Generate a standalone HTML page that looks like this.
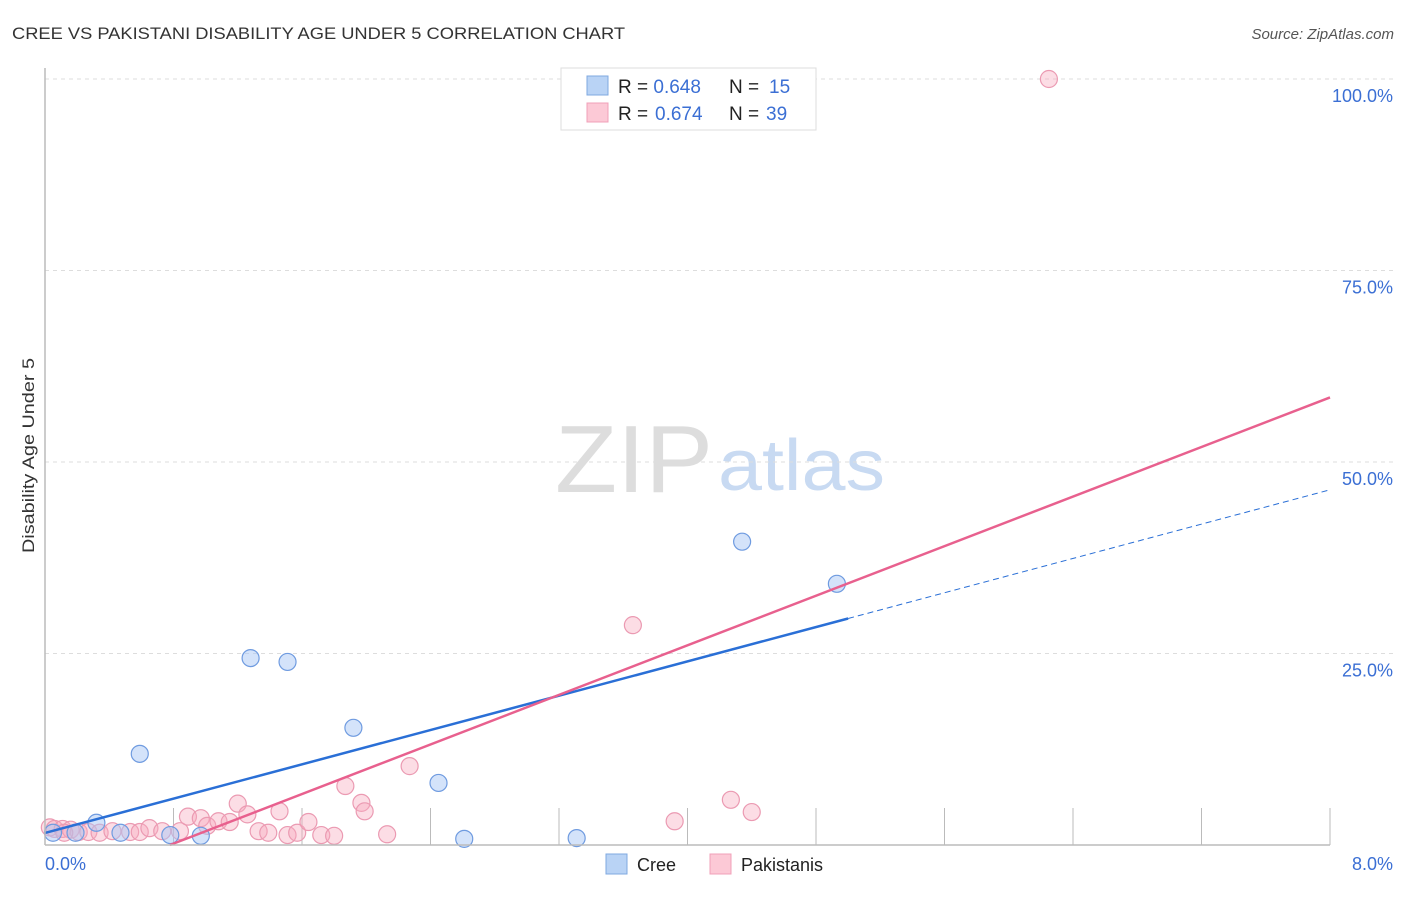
<!DOCTYPE html>
<html><head><meta charset="utf-8"><style>
body{margin:0;background:#fff;font-family:"Liberation Sans",sans-serif}
svg text{font-family:"Liberation Sans",sans-serif}
</style></head><body>
<svg id="c" width="1406" height="892">
<text x="12" y="39" font-size="17" fill="#333" textLength="613" lengthAdjust="spacingAndGlyphs">CREE VS PAKISTANI DISABILITY AGE UNDER 5 CORRELATION CHART</text>
<text x="1394" y="39" font-size="15" fill="#555" font-style="italic" text-anchor="end">Source: ZipAtlas.com</text>
<text transform="translate(34,553) rotate(-90)" font-size="17" fill="#333" textLength="195" lengthAdjust="spacingAndGlyphs">Disability Age Under 5</text>
<text x="555" y="492" font-size="96" fill="#ddd" font-family="Liberation Serif" textLength="158" lengthAdjust="spacingAndGlyphs">ZIP</text>
<text x="718" y="490" font-size="72" fill="#c8daf2" textLength="167" lengthAdjust="spacingAndGlyphs">atlas</text>
<g id="grid"></g><g id="pts"></g><g id="lines"></g>
<line x1="45" y1="68" x2="45" y2="845" stroke="#bbb" stroke-width="1.5"/>
<line x1="45" y1="845" x2="1330" y2="845" stroke="#bbb" stroke-width="1.5"/>
<text x="45" y="870" font-size="18" fill="#3b6fd4">0.0%</text>
<text x="1393" y="870" font-size="18" fill="#3b6fd4" text-anchor="end">8.0%</text>
<g>
<rect x="561" y="68" width="255" height="62" fill="#fff" stroke="#ddd"/>
<rect x="587" y="76" width="21" height="19" fill="#b9d3f5" stroke="#7fa8e0"/>
<rect x="587" y="103" width="21" height="19" fill="#fcc9d6" stroke="#f0a0b8"/>
<text x="618" y="93" font-size="19" fill="#222">R = <tspan fill="#3b6fd4">0.648</tspan><tspan x="729">N = </tspan><tspan fill="#3b6fd4" x="769">15</tspan></text>
<text x="618" y="120" font-size="19" fill="#222">R = <tspan fill="#3b6fd4" x="655">0.674</tspan><tspan x="729">N = </tspan><tspan fill="#3b6fd4" x="766">39</tspan></text>
</g>
<g>
<rect x="606" y="854" width="21" height="20" fill="#b9d3f5" stroke="#7fa8e0"/>
<text x="637" y="871" font-size="18" fill="#222">Cree</text>
<rect x="710" y="854" width="21" height="20" fill="#fcc9d6" stroke="#f0a0b8"/>
<text x="741" y="871" font-size="18" fill="#222">Pakistanis</text>
</g>
</svg>
<script>
const yTicks=[25,50,75,100];
const xTickCount=10;
const creeX=[0.05,0.19,0.32,0.47,0.59,0.78,0.97,1.28,1.51,1.92,2.45,2.61,3.31,4.34,4.93];
const creeY=[1.6,1.6,2.9,1.6,11.9,1.3,1.2,24.4,23.9,15.3,8.1,0.8,0.9,39.6,34.1];
const pakX=[0.03,0.06,0.11,0.16,0.21,0.27,0.34,0.42,0.53,0.59,0.65,0.73,0.84,0.89,0.97,1.01,1.08,1.15,1.20,1.26,1.33,1.39,1.46,1.51,1.57,1.64,1.72,1.80,1.87,1.97,1.99,2.13,2.27,3.66,3.92,4.27,4.40,6.25,0.12];
const pakY=[2.3,2.1,2.1,2.0,1.7,1.7,1.6,1.8,1.7,1.7,2.2,1.8,1.8,3.7,3.5,2.5,3.1,3.0,5.4,4.0,1.8,1.6,4.4,1.3,1.6,3.0,1.3,1.2,7.7,5.5,4.4,1.4,10.3,28.7,3.1,5.9,4.3,100,1.6];
const creeFit=[1.57,5.6], pakFit=[-6.29,8.09];
const X=v=>45+v/8*1285, Y=v=>845-v*7.66;
const NS='http://www.w3.org/2000/svg';
function mk(t,a,p){const e=document.createElementNS(NS,t);for(const k in a)e.setAttribute(k,a[k]);p.appendChild(e);return e;}
const grid=document.getElementById('grid');
yTicks.forEach(t=>{
 const l=mk('line',{x1:45,x2:1395,y1:Y(t),y2:Y(t),stroke:'#ddd','stroke-dasharray':'4,4'},grid);
 
 
 const tx=mk('text',{x:1393,y:Y(t)+23,'font-size':18,fill:'#3b6fd4','text-anchor':'end'},grid);
 tx.textContent=t.toFixed(1)+'%';
 
 
});
for(let i=1;i<=xTickCount;i++){
 const v=8*i/xTickCount;
 const l=mk('line',{x1:X(v),x2:X(v),y1:808,y2:845,stroke:'#bbb'},grid);
 
 
}
const pts=document.getElementById('pts');
pakX.forEach((x,i)=>{
 const c=mk('circle',{cx:X(x),cy:Y(pakY[i]),r:8.5,fill:'rgba(248,170,190,0.4)',stroke:'#eb9ab2','stroke-width':1.2},pts);
 
 
});
creeX.forEach((x,i)=>{
 const c=mk('circle',{cx:X(x),cy:Y(creeY[i]),r:8.5,fill:'rgba(170,200,245,0.5)',stroke:'#6f9be0','stroke-width':1.2},pts);
 
 
});
const lines=document.getElementById('lines');
const f=(fit,x)=>fit[0]+fit[1]*x;
let b=mk('line',{x1:X(0),y1:Y(f(creeFit,0)),x2:X(5),y2:Y(f(creeFit,5)),stroke:'#2a6fd6','stroke-width':2.5},lines);


let bd=mk('line',{x1:X(5),y1:Y(f(creeFit,5)),x2:X(8),y2:Y(f(creeFit,8)),stroke:'#2a6fd6','stroke-width':1,'stroke-dasharray':'6,4'},lines);


const x0=-pakFit[0]/pakFit[1];
let p=mk('line',{x1:X(x0),y1:Y(0),x2:X(8),y2:Y(f(pakFit,8)),stroke:'#e8608e','stroke-width':2.5},lines);


</script>
</body></html>
